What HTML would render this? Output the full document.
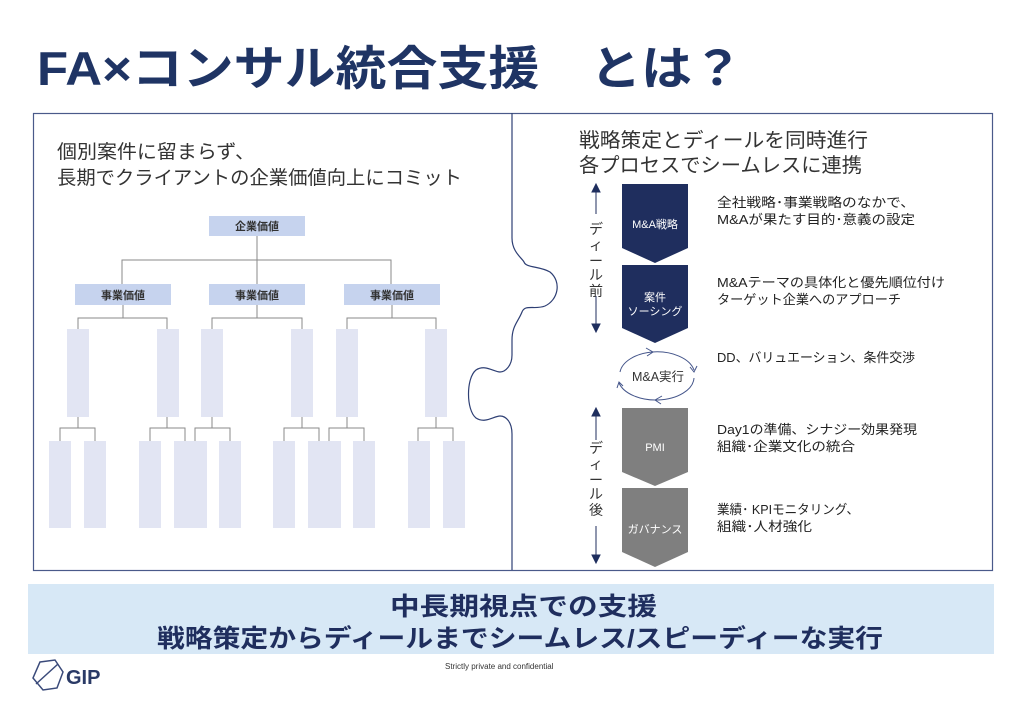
<!DOCTYPE html>
<html><head><meta charset="utf-8"><style>
html,body{margin:0;padding:0;background:#fff;}
svg{display:block;font-family:"Liberation Sans","Noto Sans CJK JP",sans-serif;}
</style></head><body>
<svg width="1024" height="703" viewBox="0 0 1024 703" xmlns="http://www.w3.org/2000/svg">
<text x="37" y="85" font-size="47" font-weight="bold" fill="#1f3464" textLength="706" lengthAdjust="spacingAndGlyphs">FA×コンサル統合支援　とは？</text>
<!-- outer box -->
<rect x="33.5" y="113.5" width="959" height="457" fill="none" stroke="#4a5a8a" stroke-width="1.2"/>
<path d="M512,113 L512,238 C512,252 522,258 524,262 C526,268 540,266 550,272 C562,282 558,300 545,306 C535,310 525,304 522,312 C518,322 512,326 512,340 L512,355 C512,366 505,372 500,372 C494,372 485,364 476,370 C466,378 466,410 476,418 C485,424 494,416 500,416 C506,416 512,422 512,434 L512,570" fill="#fff" stroke="#2e3f74" stroke-width="1.2"/>
<!-- left texts -->
<g font-size="19" fill="#333">
<text x="57" y="158" textLength="198" lengthAdjust="spacingAndGlyphs">個別案件に留まらず、</text>
<text x="57" y="184" textLength="405" lengthAdjust="spacingAndGlyphs">長期でクライアントの企業価値向上にコミット</text>
</g>
<!-- tree -->
<g stroke="#8a8a8a" stroke-width="1" fill="none">
<path d="M257,236V260M122,284V260H391V284M257,260V284"/>
<path d="M123,305V318M78,329V318H167V329"/>
<path d="M257,305V318M212,329V318H302V329"/>
<path d="M392,305V318M347,329V318H436V329"/>
<path d="M78,417V428M60,441V428H95V441"/>
<path d="M167,417V428M150,441V428H185V441"/>
<path d="M212,417V428M195,441V428H230V441"/>
<path d="M302,417V428M284,441V428H319V441"/>
<path d="M347,417V428M329,441V428H364V441"/>
<path d="M436,417V428M418,441V428H453V441"/>
</g>
<g fill="#c6d3ee">
<rect x="209" y="216" width="96" height="20"/>
<rect x="75" y="284" width="96" height="21"/>
<rect x="209" y="284" width="96" height="21"/>
<rect x="344" y="284" width="96" height="21"/>
</g>
<g font-size="11" font-weight="bold" fill="#333" text-anchor="middle">
<text x="257" y="230">企業価値</text>
<text x="123" y="299">事業価値</text>
<text x="257" y="299">事業価値</text>
<text x="392" y="299">事業価値</text>
</g>
<g fill="#e2e5f3">
<rect x="67" y="329" width="22" height="88"/><rect x="157" y="329" width="22" height="88"/>
<rect x="201" y="329" width="22" height="88"/><rect x="291" y="329" width="22" height="88"/>
<rect x="336" y="329" width="22" height="88"/><rect x="425" y="329" width="22" height="88"/>
<rect x="49" y="441" width="22" height="87"/><rect x="84" y="441" width="22" height="87"/>
<rect x="139" y="441" width="22" height="87"/><rect x="174" y="441" width="33" height="87"/>
<rect x="219" y="441" width="22" height="87"/>
<rect x="273" y="441" width="22" height="87"/><rect x="308" y="441" width="33" height="87"/>
<rect x="353" y="441" width="22" height="87"/>
<rect x="408" y="441" width="22" height="87"/><rect x="443" y="441" width="22" height="87"/>
</g>
<!-- right -->
<g font-size="20" fill="#333">
<text x="579" y="147" textLength="289" lengthAdjust="spacingAndGlyphs">戦略策定とディールを同時進行</text>
<text x="579" y="172" textLength="283" lengthAdjust="spacingAndGlyphs">各プロセスでシームレスに連携</text>
</g>
<g stroke="#1f2e5e" stroke-width="1" fill="#1f2e5e">
<line x1="596" y1="190" x2="596" y2="214"/><path d="M592,192L596,184L600,192Z"/>
<line x1="596" y1="296" x2="596" y2="326"/><path d="M592,324L596,332L600,324Z"/>
<line x1="596" y1="414" x2="596" y2="440"/><path d="M592,416L596,408L600,416Z"/>
<line x1="596" y1="526" x2="596" y2="556"/><path d="M592,555L596,563L600,555Z"/>
</g>
<g font-size="14" fill="#333" text-anchor="middle">
<text x="596" y="234">デ</text><text x="596" y="250">ィ</text><text x="596" y="266">ー</text><text x="596" y="280">ル</text><text x="596" y="296">前</text>
<text x="596" y="453">デ</text><text x="596" y="469">ィ</text><text x="596" y="485">ー</text><text x="596" y="499">ル</text><text x="596" y="515">後</text>
</g>
<path d="M622,184H688V248L655,263L622,248Z" fill="#1f2e5e"/>
<path d="M622,265H688V328L655,343L622,328Z" fill="#1f2e5e"/>
<path d="M622,408H688V472L655,486L622,472Z" fill="#7f7f7f"/>
<path d="M622,488H688V552L655,567L622,552Z" fill="#7f7f7f"/>
<g font-size="11" fill="#fff" text-anchor="middle">
<text x="655" y="228">M&amp;A戦略</text>
<text x="655" y="301">案件</text><text x="655" y="315">ソーシング</text>
<text x="655" y="451">PMI</text>
<text x="655" y="533">ガバナンス</text>
</g>
<g fill="none" stroke="#44558a" stroke-width="1">
<path d="M694,370 A38,23 0 0 0 652,352 A38,23 0 0 0 620,372"/>
<path d="M619,383 A38,23 0 0 0 658,400 A38,23 0 0 0 694,378"/>
<path d="M646,348L653,352L647,356"/>
<path d="M662,396L655,400L661,404"/>
<path d="M690,367L694,372L697,366"/>
<path d="M617,388L619,382L623,386"/>
</g>
<text x="658" y="381" font-size="12.5" fill="#333" text-anchor="middle">M&amp;A実行</text>
<g font-size="13" fill="#222">
<text x="717" y="207" textLength="198" lengthAdjust="spacingAndGlyphs">全社戦略･事業戦略のなかで、</text>
<text x="717" y="224" textLength="198" lengthAdjust="spacingAndGlyphs">M&amp;Aが果たす目的･意義の設定</text>
<text x="717" y="287" textLength="228" lengthAdjust="spacingAndGlyphs">M&amp;Aテーマの具体化と優先順位付け</text>
<text x="717" y="304" textLength="184" lengthAdjust="spacingAndGlyphs">ターゲット企業へのアプローチ</text>
<text x="717" y="362" textLength="198" lengthAdjust="spacingAndGlyphs">DD、バリュエーション、条件交渉</text>
<text x="717" y="434" textLength="200" lengthAdjust="spacingAndGlyphs">Day1の準備、シナジー効果発現</text>
<text x="717" y="451" textLength="138" lengthAdjust="spacingAndGlyphs">組織･企業文化の統合</text>
<text x="717" y="514" textLength="142" lengthAdjust="spacingAndGlyphs">業績･ KPIモニタリング、</text>
<text x="717" y="531" textLength="95" lengthAdjust="spacingAndGlyphs">組織･人材強化</text>
</g>
<!-- bottom band -->
<rect x="28" y="584" width="966" height="70" fill="#d7e8f6"/>
<g font-size="25" font-weight="bold" fill="#1f2e5e">
<text x="390" y="615" textLength="267" lengthAdjust="spacingAndGlyphs">中長期視点での支援</text>
<text x="157" y="647" textLength="726" lengthAdjust="spacingAndGlyphs">戦略策定からディールまでシームレス/スピーディーな実行</text>
</g>
<!-- logo -->
<g fill="none" stroke="#3a4a7a" stroke-width="1.5">
<path d="M40,662L55,660L63,672L57,688L43,690L33,678Z"/>
<path d="M36,684L58,664"/>
</g>
<text x="66" y="684" font-size="20" font-weight="bold" fill="#2a3a66">GIP</text>
<text x="445" y="669" font-size="8" fill="#333">Strictly private and confidential</text>
</svg>
</body></html>
